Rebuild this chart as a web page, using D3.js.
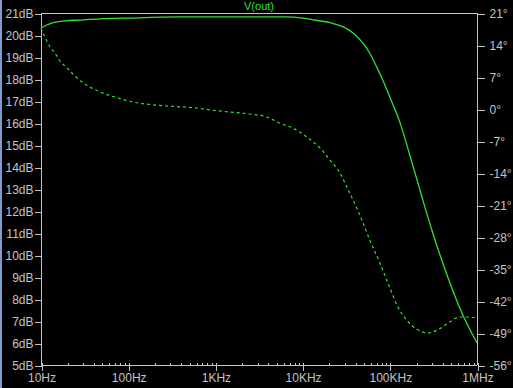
<!DOCTYPE html>
<html>
<head>
<meta charset="utf-8">
<script src="https://cdn.jsdelivr.net/npm/d3@7"></script>
<style>
html,body{margin:0;padding:0;background:#000;}
svg{display:block;}
</style>
</head>
<body>
<svg id="chart" width="513" height="388"></svg>
<script>
// ---- data ----
const title = "V(out)";
const magFreq = [10,12.7,18.9,28,47.6,100,390,1000,6300,10000,12400,20600,29000,37900,49000,58700,70700,83000,100000,130000,183000,239000,311000,394000,688000,1000000];
const magDb   = [20.32,20.52,20.64,20.68,20.73,20.77,20.82,20.82,20.82,20.77,20.71,20.56,20.38,20.09,19.64,19.18,18.55,17.95,17.18,16.05,14.09,12.5,11.0,9.77,7.27,6.0];
const phFreq  = [10,11.1,12.7,14.7,16.5,19.9,24.5,31.9,47.6,76.1,113,178,278,424,612,867,1470,2490,3880,5500,7780,11100,15800,20600,26900,33300,37900,49300,59000,77000,97000,124000,160000,210000,277000,355000,487000,630000,778000,1000000];
const phDeg   = [17.7,15.75,13.6,12.03,10.5,9.0,7.22,5.47,3.72,2.41,1.53,0.98,0.66,0.44,0.22,-0.2,-0.66,-1.1,-1.75,-3.1,-4.2,-6.1,-8.5,-11.2,-14.0,-17.7,-19.9,-24.9,-28.7,-33.7,-38.5,-43.3,-46.4,-48.3,-49.0,-48.3,-46.6,-45.5,-45.5,-45.7];
const dbTicks = [21,20,19,18,17,16,15,14,13,12,11,10,9,8,7,6,5];
const degTicks = [21,14,7,0,-7,-14,-21,-28,-35,-42,-49,-56];
const freqTicks = [10,100,1000,10000,100000,1000000];
const freqLabels = ["10Hz","100Hz","1KHz","10KHz","100KHz","1MHz"];

// ---- layout ----
const L = 41, R = 477, T = 13, B = 365;
const gray = "#c4c4c4", green = "#33e033";
const svg = d3.select("#chart");
svg.append("rect").attr("width",513).attr("height",388).attr("fill","#000");
svg.append("rect").attr("x",0).attr("y",0).attr("width",2).attr("height",388).attr("fill","#7f9ccc");

const x = d3.scaleLog().domain([10,1e6]).range([L,R]);
const yL = d3.scaleLinear().domain([5,21]).range([B,T]);
const yR = d3.scaleLinear().domain([-56,21]).range([B,T]);

const font = "'Liberation Sans', Arial, sans-serif";

// frame
svg.append("line").attr("x1",L).attr("x2",R).attr("y1",T+0.5).attr("y2",T+0.5).attr("stroke",gray);
svg.append("line").attr("x1",L).attr("x2",R).attr("y1",B+0.5).attr("y2",B+0.5).attr("stroke",gray);
svg.append("line").attr("x1",L+0.5).attr("x2",L+0.5).attr("y1",T).attr("y2",B).attr("stroke",gray);
svg.append("line").attr("x1",R+0.5).attr("x2",R+0.5).attr("y1",T).attr("y2",B).attr("stroke",gray);

function style(g){
  g.select(".domain").remove();
  g.selectAll("line").attr("stroke",gray).attr("shape-rendering","crispEdges");
  g.selectAll("text").attr("fill",gray).attr("font-family",font).attr("font-size","12px");
}

// left axis
svg.append("g").attr("transform",`translate(${L+0.5},0.5)`)
  .call(d3.axisLeft(yL).tickValues(dbTicks).tickSize(7).tickPadding(1).tickFormat(d=>d+"dB"))
  .call(style);

// right axis
svg.append("g").attr("transform",`translate(${R+0.5},0.5)`)
  .call(d3.axisRight(yR).tickValues(degTicks).tickSize(7).tickPadding(5).tickFormat(d=>d+"°"))
  .call(style);

// bottom minor ticks (upward)
const minor = [];
for (let dec=10; dec<1e6; dec*=10) for (let m=1; m<10; m++) minor.push(dec*m);
minor.push(1e6);
svg.append("g").attr("transform",`translate(0.5,${B+0.5})`)
  .call(d3.axisTop(x).tickValues(minor).tickSize(3).tickFormat(""))
  .call(style);
// bottom major ticks + labels
svg.append("g").attr("transform",`translate(0.5,${B+0.5})`)
  .call(d3.axisBottom(x).tickValues(freqTicks).tickSize(5).tickPadding(3).tickFormat((d,i)=>freqLabels[i]))
  .call(style);

// title
svg.append("text").attr("x",(L+R)/2).attr("y",10).attr("text-anchor","middle")
  .attr("fill",green).attr("font-family",font).attr("font-size","11px").text(title);

// curves
const magLine = d3.line().x(d=>x(d[0])).y(d=>yL(d[1])).curve(d3.curveMonotoneX);
const phLine = d3.line().x(d=>x(d[0])).y(d=>yR(d[1])).curve(d3.curveMonotoneX);
svg.append("path").datum(phFreq.map((f,i)=>[f,phDeg[i]])).attr("d",phLine)
  .attr("fill","none").attr("stroke",green).attr("stroke-width",1.2).attr("stroke-dasharray","3,3");
svg.append("path").datum(magFreq.map((f,i)=>[f,magDb[i]])).attr("d",magLine)
  .attr("fill","none").attr("stroke",green).attr("stroke-width",1.3);
</script>
</body>
</html>
